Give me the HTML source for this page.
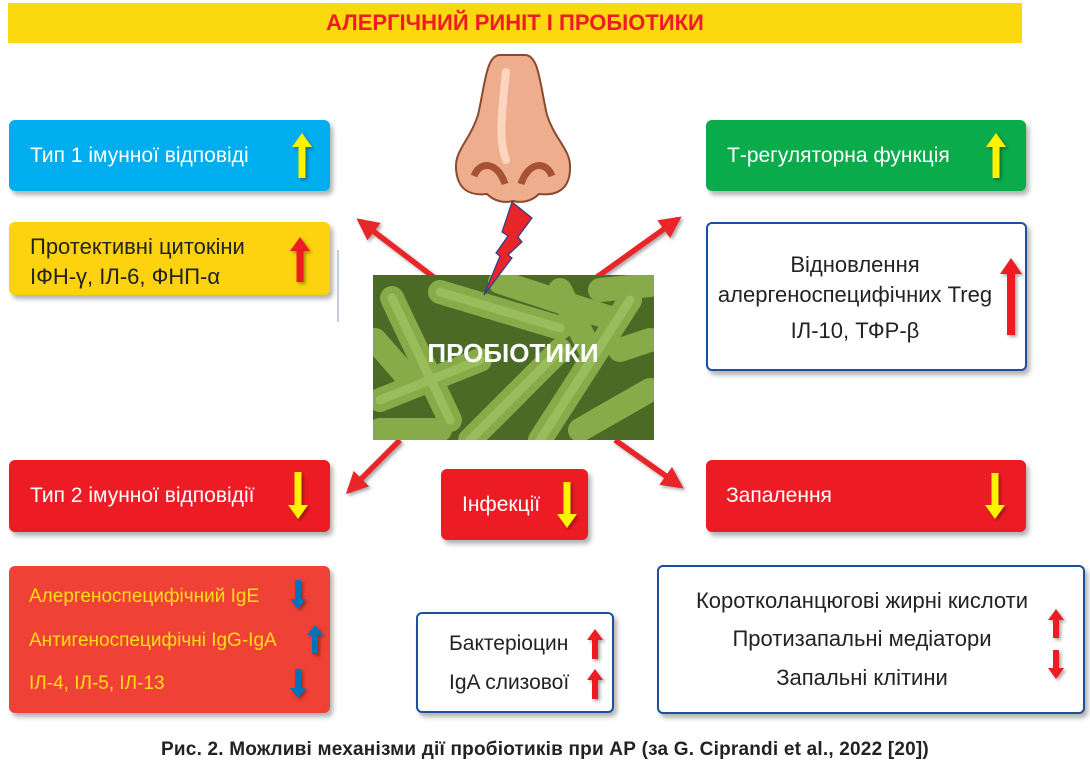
<!DOCTYPE html>
<html><head><meta charset="utf-8"><style>
body{margin:0;width:1090px;height:776px;background:#fff;position:relative;overflow:hidden;font-family:"Liberation Sans","DejaVu Sans",sans-serif}
.b{position:absolute;box-sizing:border-box;border-radius:6px;box-shadow:3px 4px 5px rgba(0,0,0,.3)}
.t{position:absolute;font-size:21px;white-space:nowrap}
svg{position:absolute;left:0;top:0}
</style></head><body>
<div class="b" style="left:8px;top:3px;width:1014px;height:40px;background:#fcd80f;border-radius:0;box-shadow:none"></div>
<div class="t" style="left:0;width:1030px;text-align:center;top:10px;color:#ed1c24;font-weight:bold;font-size:22px">АЛЕРГІЧНИЙ РИНІТ І ПРОБІОТИКИ</div>

<div class="b" style="left:9px;top:120px;width:321px;height:71px;background:#00aeef"></div>
<div class="t" style="left:30px;top:144px;color:#fff">Тип 1 імунної відповіді</div>
<div class="b" style="left:9px;top:222px;width:321px;height:73px;background:#fdd20e"></div>
<div class="t" style="left:30px;top:232px;color:#222;line-height:30px;font-size:22px">Протективні цитокіни<br>ІФН-γ, ІЛ-6, ФНП-α</div>

<div class="b" style="left:706px;top:120px;width:320px;height:71px;background:#0aab4b"></div>
<div class="t" style="left:727px;top:144px;color:#fff">Т-регуляторна функція</div>
<div class="b" style="left:706px;top:222px;width:321px;height:149px;background:#fff;border:2px solid #1b4fa0"></div>
<div class="t" style="left:706px;width:298px;text-align:center;top:250px;color:#222;line-height:30px;font-size:22px">Відновлення<br>алергеноспецифічних Treg</div>
<div class="t" style="left:706px;width:298px;text-align:center;top:318px;color:#222;font-size:22px">ІЛ-10, ТФР-β</div>

<div class="b" style="left:9px;top:460px;width:321px;height:72px;background:#ed1c24"></div>
<div class="t" style="left:30px;top:484px;color:#fff">Тип 2 імунної відповідії</div>
<div class="b" style="left:441px;top:469px;width:147px;height:71px;background:#ed1c24"></div>
<div class="t" style="left:462px;top:493px;color:#fff">Інфекції</div>
<div class="b" style="left:706px;top:460px;width:320px;height:72px;background:#ed1c24"></div>
<div class="t" style="left:726px;top:484px;color:#fff">Запалення</div>

<div class="b" style="left:9px;top:566px;width:321px;height:147px;background:#ef4136"></div>
<div class="t" style="left:29px;top:586px;color:#ffde17;font-size:19px">Алергеноспецифічний IgE</div>
<div class="t" style="left:29px;top:630px;color:#ffde17;font-size:19px">Антигеноспецифічні IgG-IgA</div>
<div class="t" style="left:29px;top:673px;color:#ffde17;font-size:19px">ІЛ-4, ІЛ-5, ІЛ-13</div>

<div class="b" style="left:416px;top:612px;width:198px;height:101px;background:#fff;border:2px solid #1b4fa0"></div>
<div class="t" style="left:449px;top:632px;color:#222;font-size:21px">Бактеріоцин</div>
<div class="t" style="left:449px;top:671px;color:#222;font-size:21px">IgA слизової</div>

<div class="b" style="left:657px;top:565px;width:428px;height:149px;background:#fff;border:2px solid #1b4fa0"></div>
<div class="t" style="left:657px;width:410px;text-align:center;top:588px;color:#222;font-size:22px">Коротколанцюгові жирні кислоти</div>
<div class="t" style="left:657px;width:410px;text-align:center;top:626px;color:#222;font-size:22px">Протизапальні медіатори</div>
<div class="t" style="left:657px;width:410px;text-align:center;top:665px;color:#222;font-size:22px">Запальні клітини</div>

<div class="t" style="left:0;width:1090px;text-align:center;top:739px;color:#222;font-weight:bold;font-size:19px;letter-spacing:0.2px">Рис. 2. Можливі механізми дії пробіотиків при АР (за G. Ciprandi et al., 2022 [20])</div>

<svg width="1090" height="776" viewBox="0 0 1090 776">
<defs>
<marker id="m" viewBox="0 0 10 10" refX="8" refY="5" markerWidth="4" markerHeight="4" orient="auto"><path d="M0,0L10,5L0,10z" fill="#e8262a"/></marker>
<filter id="sh"><feDropShadow dx="2" dy="2" stdDeviation="1.5" flood-opacity=".35"/></filter>
<clipPath id="cp"><rect x="373" y="275" width="281" height="165"/></clipPath>
</defs>
<g stroke="#e8262a" stroke-width="5.5" marker-end="url(#m)" filter="url(#sh)">
<line x1="440" y1="282" x2="360" y2="221"/>
<line x1="590" y1="282" x2="678" y2="219"/>
<line x1="400" y1="440" x2="349" y2="491"/>
<line x1="615" y1="440" x2="680" y2="486"/>
</g>
<!-- bacteria image -->
<rect x="373" y="275" width="281" height="165" fill="#4a6a26"/>
<g stroke-linecap="round" fill="none" clip-path="url(#cp)">
<g stroke="#86ab48" stroke-width="24">
<line x1="392" y1="298" x2="450" y2="420"/>
<line x1="440" y1="292" x2="560" y2="328"/>
<line x1="500" y1="282" x2="610" y2="318"/>
<line x1="540" y1="440" x2="630" y2="300"/>
<line x1="380" y1="400" x2="480" y2="360"/>
<line x1="470" y1="440" x2="560" y2="350"/>
<line x1="580" y1="430" x2="650" y2="390"/>
<line x1="560" y1="290" x2="590" y2="350"/>
<line x1="380" y1="430" x2="440" y2="430"/>
<line x1="600" y1="290" x2="650" y2="285"/>
<line x1="375" y1="340" x2="410" y2="380"/>
<line x1="620" y1="350" x2="650" y2="340"/>
</g>
<g stroke="#a8c86a" stroke-width="9" opacity=".6">
<line x1="392" y1="298" x2="450" y2="420"/>
<line x1="440" y1="292" x2="560" y2="328"/>
<line x1="540" y1="440" x2="630" y2="300"/>
<line x1="470" y1="440" x2="560" y2="350"/>
<line x1="380" y1="400" x2="480" y2="360"/>
</g>
</g>
<text x="513" y="362" text-anchor="middle" font-family="Liberation Sans,sans-serif" font-weight="bold" font-size="26" fill="#fff">ПРОБІОТИКИ</text>
<!-- nose -->
<path d="M500,55 C486,55 485,85 478,115 C470,140 455,150 456,168 C457,190 470,196 487,194 C495,202 505,203 513,201 C521,203 531,202 539,194 C556,196 570,190 570,168 C571,150 555,140 547,115 C540,85 539,55 525,55 Z" fill="#eeae8e" stroke="#8a4a30" stroke-width="2"/>
<path d="M474,176 C480,160 498,162 505,184 M552,176 C546,160 528,162 521,184" stroke="#a85234" stroke-width="7" fill="none"/>
<path d="M506,72 C502,110 498,140 506,160" stroke="#fbd5c0" stroke-width="8" fill="none" stroke-linecap="round"/>
<!-- lightning -->
<path d="M512,202 L532,218 L518,237 L522,242 L508,255 L512,258 L484,295 L500,256 L496,253 L508,236 L502,232 Z" fill="#e8262a" stroke="#2c3f8f" stroke-width="1.2"/>
<!-- small arrows -->
<g filter="url(#sh)">
<path d="M298.5,178 V147 H292 L302,133 L312,147 H305.5 V178Z" fill="#fff200"/>
<path d="M296.5,282 V251 H290 L300,237 L310,251 H303.5 V282Z" fill="#ed1c24"/>
<path d="M992.5,178 V147 H986 L996,133 L1006,147 H999.5 V178Z" fill="#fff200"/>
<path d="M1007,335 V274 H1000 L1011,258 L1022,274 H1015 V335Z" fill="#ed1c24"/>
<path d="M294.5,472 V505 H288 L298,519 L308,505 H301.5 V472Z" fill="#fff200"/>
<path d="M563.5,482 V514 H557 L567,528 L577,514 H570.5 V482Z" fill="#fff200"/>
<path d="M991.5,473 V505 H985 L995,519 L1005,505 H998.5 V473Z" fill="#fff200"/>
<path d="M295,580 V599 H290 L298,609 L306,599 H301 V580Z" fill="#0072bc"/>
<path d="M312,654 V635 H307 L315,625 L323,635 H318 V654Z" fill="#0072bc"/>
<path d="M295,669 V688 H290 L298,698 L306,688 H301 V669Z" fill="#0072bc"/>
<path d="M592,659 V640 H587 L595,629 L603,640 H598 V659Z" fill="#ed1c24"/>
<path d="M592,699 V680 H587 L595,669 L603,680 H598 V699Z" fill="#ed1c24"/>
<path d="M1053,638 V620 H1048 L1056,609 L1064,620 H1059 V638Z" fill="#ed1c24"/>
<path d="M1053,650 V668 H1048 L1056,679 L1064,668 H1059 V650Z" fill="#ed1c24"/>
</g>
<line x1="338" y1="250" x2="338" y2="322" stroke="#8899bb" stroke-width="1"/>
</svg>
</body></html>
